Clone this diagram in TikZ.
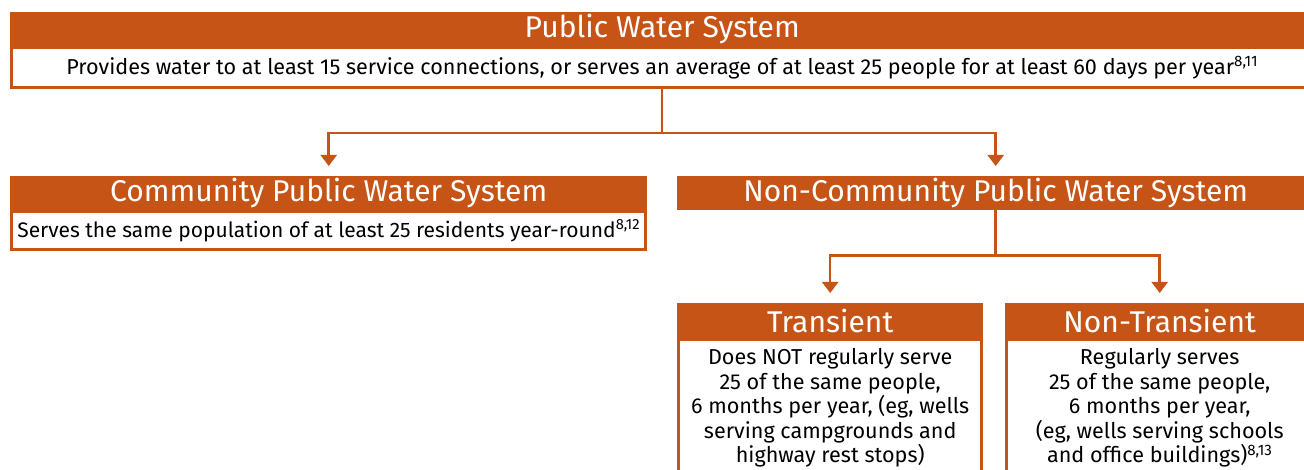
\documentclass[tikz,border=0pt]{standalone}
\usepackage{fontspec}
\setmainfont{Fira Sans}
\usetikzlibrary{positioning,arrows.meta}
\definecolor{wOrange}{RGB}{198,84,22}
\tikzset{
  head/.style={rectangle, fill=wOrange, text=white, minimum height=34pt,
               inner sep=0pt, font=\fontsize{30}{32}\selectfont, anchor=north west},
  body/.style={rectangle, draw=wOrange, line width=2.5pt, fill=white,
               inner sep=0pt, align=center, font=\fontsize{21.6}{24.5}\selectfont},
  subbody/.style={body, inner ysep=9pt},
  flow/.style={-{Triangle[width=16pt,length=11pt]}, draw=wOrange,
               line width=2.5pt, shorten >=10pt},
}
\newcommand{\fn}[1]{\textsuperscript{#1}}

\begin{document}
\begin{tikzpicture}[x=1pt, y=-1pt]
  \useasboundingbox (0,0) rectangle (1304,470);

  % top level
  \node[head, minimum width=1304pt] (pws) at (10,12) {Public Water System};
  \node[body, minimum width=1301pt, minimum height=40pt, below=0pt of pws] (pwsbody)
        {Provides water to at least 15 service connections, or serves an average of at least 25 people for at least 60 days per year\fn{8,11}};

  % second level
  \node[head, minimum width=637pt] (cpws) at (10,176) {Community Public Water System};
  \node[body, minimum width=634pt, minimum height=38pt, below=0pt of cpws,
        font=\fontsize{21}{24.5}\selectfont] (cpwsbody)
        {Serves the same population of at least 25 residents year-round\fn{8,12}};
  \node[head, minimum width=637pt] (ncpws) at (677,176) {Non-Community Public Water System};

  % third level
  \node[head, minimum width=306pt, minimum height=35pt] (trans) at (677,303) {Transient};
  \node[subbody, minimum width=303pt, below=0pt of trans] (transbody)
        {Does NOT regularly serve\\25 of the same people,\\6 months per year, (eg, wells\\serving campgrounds and\\highway rest stops)};
  \node[head, minimum width=309pt, minimum height=35pt] (ntrans) at (1005,303) {Non-Transient};
  \node[subbody, minimum width=306pt, below=0pt of ntrans] (ntransbody)
        {Regularly serves\\25 of the same people,\\6 months per year,\\(eg, wells serving schools\\and office buildings)\fn{8,13}};

  \draw[flow] (pwsbody.south) -- ++(0,44) -| (cpws.north);
  \draw[flow] (pwsbody.south) -- ++(0,44) -| (ncpws.north);
  \draw[flow] (ncpws.south) -- ++(0,45) -| (trans.north);
  \draw[flow] (ncpws.south) -- ++(0,45) -| (ntrans.north);
\end{tikzpicture}
\end{document}
